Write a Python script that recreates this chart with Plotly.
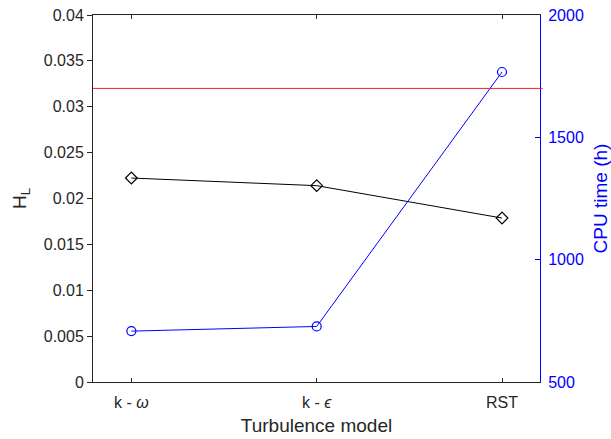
import plotly.graph_objects as go

models = ["k - <i>ω</i>", "k - <i>ϵ</i>", "RST"]
model_pos = [1, 2, 3]
hl_values = [0.02223, 0.0214, 0.01787]
cpu_hours = [708, 727, 1767]
hl_limit = 0.032

left_ticks = [0, 0.005, 0.01, 0.015, 0.02, 0.025, 0.03, 0.035, 0.04]
left_ticktext = ["0", "0.005", "0.01", "0.015", "0.02", "0.025", "0.03", "0.035", "0.04"]
right_ticks = [500, 1000, 1500, 2000]

FONT = "Liberation Sans, Arial, sans-serif"
AX = "#262626"

fig = go.Figure()
fig.add_trace(go.Scatter(x=model_pos, y=hl_values, mode="lines+markers",
                         line=dict(color="black", width=1),
                         marker=dict(symbol="diamond-open", size=9, color="black", line=dict(width=1.2)),
                         yaxis="y", showlegend=False))
fig.add_trace(go.Scatter(x=model_pos, y=cpu_hours, mode="lines+markers",
                         line=dict(color="blue", width=1),
                         marker=dict(symbol="circle-open", size=9, color="blue", line=dict(width=1.2)),
                         yaxis="y2", showlegend=False))
fig.add_shape(type="line", xref="paper", yref="y", x0=0, x1=1.006, y0=hl_limit, y1=hl_limit,
              line=dict(color="#ee2222", width=1))

fig.update_layout(
    width=611, height=439,
    margin=dict(l=93, r=71, t=15, b=57, autoexpand=False),
    paper_bgcolor="white", plot_bgcolor="white",
    font=dict(family=FONT, size=16, color=AX),
    xaxis=dict(range=[0.793, 3.205], tickvals=model_pos, ticktext=models,
               ticks="inside", ticklen=4, tickcolor=AX, showline=True, linecolor=AX,
               linewidth=1, mirror="ticks", showgrid=False, zeroline=False,
               ticklabelstandoff=6, automargin=False,
               title=dict(text="Turbulence model", font=dict(size=19), standoff=8),
               tickfont=dict(size=16)),
    yaxis=dict(range=[0, 0.04], tickvals=left_ticks, ticktext=left_ticktext,
               ticks="outside", ticklen=5, tickcolor=AX, showline=True, linecolor=AX,
               linewidth=1, showgrid=False, zeroline=False, automargin=False,
               title=dict(text="H<sub>L</sub>", font=dict(size=19), standoff=12),
               tickfont=dict(size=16)),
    yaxis2=dict(range=[500, 2000], tickvals=right_ticks, overlaying="y", side="right",
                ticks="inside", ticklen=5, tickcolor="blue", showline=True, linecolor="blue",
                linewidth=1, showgrid=False, zeroline=False, ticklabelstandoff=4, automargin=False,
                tickfont=dict(size=16, color="blue"),
                title=dict(text="CPU time (h)", font=dict(size=19, color="blue"), standoff=10)),
)

fig.write_html("out.html")
